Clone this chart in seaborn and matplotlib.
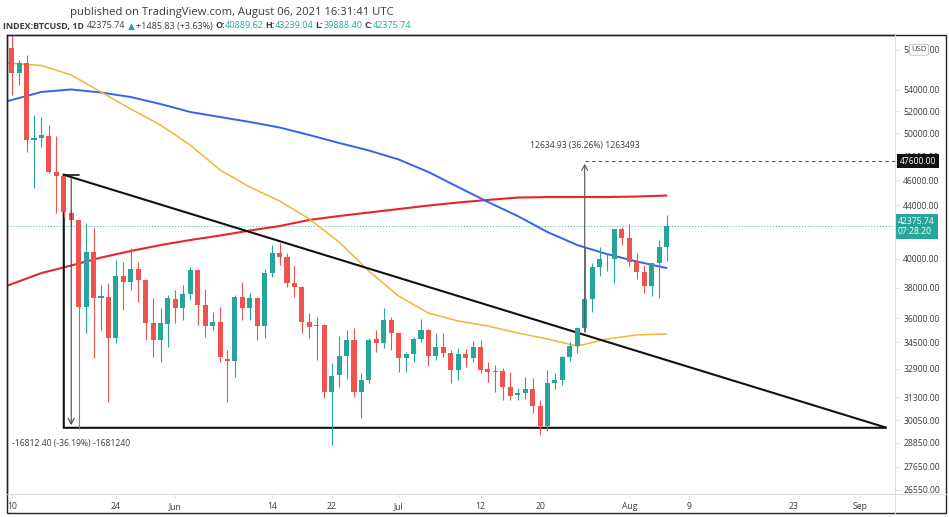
import matplotlib
matplotlib.use('Agg')
import matplotlib.pyplot as plt
import matplotlib.dates as mdates
from matplotlib.patches import Rectangle, Polygon
from matplotlib.lines import Line2D
from matplotlib.ticker import FixedLocator, NullLocator
import seaborn as sns
import pandas as pd

sns.set_style('white')
plt.rcParams['font.family'] = ['Open Sans', 'DejaVu Sans']

W, H = 949, 517

# daily BTCUSD candles, May 10 -> Aug 6 2021
dates = pd.date_range('2021-05-10', '2021-08-06', freq='D')
opens = [58200, 55700, 56620, 49410, 49600, 49800, 46700, 46380, 43420, 42870,
         36750, 40520, 37300, 37400, 34740, 38810, 38380, 39270, 38530, 35670,
         34640, 35630, 37250, 36640, 37570, 39220, 36860, 35510, 35760, 33510,
         33390, 37360, 36680, 37300, 35510, 38990, 40450, 40120, 38350, 38040,
         35780, 35490, 35570, 31600, 32530, 33670, 34640, 31600, 32260, 34680,
         34470, 35890, 35050, 33530, 33790, 34680, 35260, 33650, 34190, 33870,
         32840, 33790, 33530, 34230, 32900, 32750, 32810, 31870, 31400, 31540,
         31760, 30820, 29740, 32100, 32260, 33630, 34270, 35360, 37230, 39450,
         39970, 40020, 42160, 41490, 39800, 39100, 38120, 39690, 40889.62]
highs = [59600, 56950, 57460, 51660, 51500, 50740, 49800, 46600, 43630, 42900,
         42620, 42260, 38190, 38300, 39920, 39800, 40780, 39800, 38600, 37300,
         36660, 37520, 37850, 38190, 39450, 39300, 37900, 36420, 36750, 34030,
         37520, 38420, 37630, 37410, 39270, 41000, 41170, 40400, 39570, 38100,
         36320, 36060, 35650, 33270, 34890, 35260, 35360, 32690, 34740, 35260,
         36640, 36100, 35100, 33930, 34850, 35930, 35300, 35100, 35050, 34030,
         34130, 34070, 34600, 34640, 33330, 33130, 32940, 32700, 31790, 32410,
         32350, 31140, 32840, 32650, 33670, 34540, 35470, 40880, 39690, 40880,
         40400, 42200, 42360, 42560, 40400, 39570, 39730, 41370, 43239.04]
lows = [53520, 54480, 48400, 45370, 48820, 46600, 43400, 43120, 42360, 29600,
        35060, 33550, 35260, 31050, 34450, 36530, 37850, 37080, 34640, 33630,
        33330, 34230, 35670, 35890, 37190, 35570, 34850, 35260, 33330, 31050,
        32460, 35890, 35890, 34640, 34740, 38770, 39570, 38040, 37360, 35100,
        34740, 33430, 31230, 28750, 31880, 32300, 31290, 30140, 32070, 33890,
        34150, 34030, 32750, 32750, 33330, 34540, 33070, 33430, 33630, 32110,
        32260, 32990, 33330, 32640, 32160, 31600, 31140, 31140, 31140, 31180,
        30410, 29260, 29480, 31730, 31980, 33390, 33870, 35150, 36420, 38810,
        39170, 38350, 41000, 39500, 38580, 37630, 37450, 37300, 39888.40]
closes = [55700, 56620, 49410, 49600, 49850, 46700, 46380, 43480, 42870, 36750,
          40520, 37300, 37450, 34740, 38810, 38380, 39270, 38530, 35670, 34640,
          35670, 37300, 36640, 37570, 39220, 36860, 35510, 35760, 33590, 33390,
          37360, 36640, 37300, 35510, 38990, 40450, 40120, 38350, 38040, 35780,
          35460, 35570, 31600, 32510, 33670, 34640, 31600, 32260, 34640, 34470,
          35890, 35050, 33530, 33770, 34680, 35260, 33650, 34190, 33870, 32840,
          33790, 33530, 34230, 32840, 32750, 32810, 31840, 31360, 31540, 31760,
          30820, 29740, 32100, 32260, 33630, 34270, 35360, 37230, 39450, 39970,
          40020, 42160, 41490, 39800, 39100, 38120, 39690, 40840, 42375.74]

# moving averages
ma_dates = ['2021-05-09', '2021-05-10', '2021-05-14', '2021-05-18', '2021-05-22',
            '2021-05-26', '2021-05-30', '2021-06-03', '2021-06-07', '2021-06-11',
            '2021-06-15', '2021-06-19', '2021-06-23', '2021-06-27', '2021-07-01',
            '2021-07-05', '2021-07-09', '2021-07-13', '2021-07-17', '2021-07-21',
            '2021-07-25', '2021-07-29', '2021-08-02', '2021-08-06']
ma50 = [56650, 56620, 56400, 55460, 53810, 52210, 50740, 48970, 46850, 45450,
        44340, 42940, 41220, 39150, 37450, 36340, 35830, 35510, 35070, 34700,
        34270, 34700, 34950, 35010]
ma100 = [52860, 53050, 53810, 54050, 53760, 53330, 52670, 51930, 51470, 51020,
         50520, 49850, 49150, 48500, 47730, 46680, 45450, 44260, 43170, 41960,
         41000, 40350, 39820, 39360]
ma200 = [38060, 38260, 39010, 39540, 40100, 40570, 41000, 41370, 41700, 42070,
         42410, 42870, 43170, 43440, 43710, 43980, 44220, 44420, 44610, 44650,
         44650, 44650, 44690, 44770]

# drawings
tri_top = ('2021-05-17', 46450)
tri_bottom = 29637.6
tri_end = '2021-09-04 14:00'
down_arrow_date = '2021-05-18'
up_arrow_date = '2021-07-26'
up_from, up_to = 34965, 47600
last_price = 42375.74

ytick_vals = [58000, 54000, 52000, 50000, 48000, 46000, 44000, 40000, 38000,
              36000, 34500, 32900, 31300, 30050, 28850, 27650, 26550]
xtick_dates = ['2021-05-10', '2021-05-24', '2021-06-01', '2021-06-14', '2021-06-22',
               '2021-07-01', '2021-07-12', '2021-07-20', '2021-08-01', '2021-08-09',
               '2021-08-23', '2021-09-01']
xtick_labels = ['10', '24', 'Jun', '14', '22', 'Jul', '12', '20', 'Aug', '9', '23', 'Sep']

GREEN = '#26a69a'
RED = '#ef5350'
TXT = '#3b3b3b'
SEP = '#d9dce3'


def d(s):
    return mdates.date2num(pd.Timestamp(s))


fig = plt.figure(figsize=(W / 100, H / 100), dpi=100)
fig.patch.set_facecolor('white')
ax = fig.add_axes([7 / W, 1 - 494 / H, 888 / W, 459 / H])
ax.set_facecolor('white')
ax.set_yscale('log')

x = mdates.date2num(dates)
x0 = x[0]

# moving averages
mx = [d(s) for s in ma_dates]
sns.lineplot(x=mx, y=ma200, ax=ax, color='#e8262a', lw=1.5, zorder=2)
sns.lineplot(x=mx, y=ma100, ax=ax, color='#3563e9', lw=1.4, zorder=2)
sns.lineplot(x=mx, y=ma50, ax=ax, color='#f2b43a', lw=1.1, zorder=2)

# triangle drawing
tx, ty = d(tri_top[0]), tri_top[1]
ax.add_patch(Polygon([(tx, ty), (tx, tri_bottom), (d(tri_end), tri_bottom)], closed=True,
                     fill=False, ec='#111111', lw=1.5, zorder=3, clip_on=False))

# candles
colors = [GREEN if c >= o else RED for o, c in zip(opens, closes)]
ax.vlines(x, lows, highs, colors=colors, lw=0.8, zorder=4)
bottoms = [min(o, c) for o, c in zip(opens, closes)]
heights = [max(abs(c - o), 60) for o, c in zip(opens, closes)]
ax.bar(x, heights, bottom=bottoms, width=0.68, color=colors, lw=0, zorder=5)

# current price dotted line
ax.axhline(last_price, color=GREEN, lw=0.8, ls=(0, (1, 1.6)), alpha=0.75, zorder=1)

# measure: down
dx = d(down_arrow_date)
ax.plot([tx, d('2021-05-19')], [ty, ty], color='#111111', lw=1.2, zorder=6)
ax.annotate('', xy=(dx, tri_bottom), xytext=(dx, ty),
            arrowprops=dict(arrowstyle='->,head_length=0.4,head_width=0.22', color='#444444', lw=0.8),
            zorder=6)
ax.annotate('-16812.40 (-36.19%) -1681240', xy=(dx, tri_bottom), xytext=(0, -11),
            textcoords='offset points', ha='center', va='center', fontsize=6.2, color=TXT)

# measure: up
ux = d(up_arrow_date)
ax.annotate('', xy=(ux, up_to), xytext=(ux, up_from),
            arrowprops=dict(arrowstyle='->,head_length=0.4,head_width=0.22', color='#555555', lw=0.8),
            zorder=6)
ax.plot([ux, x0 + 200], [up_to, up_to], color='#555555', lw=0.8, ls=(0, (3, 3)), zorder=6)
ax.annotate('12634.93 (36.26%) 1263493', xy=(ux, up_to), xytext=(0, 11),
            textcoords='offset points', ha='center', va='center', fontsize=6.2, color=TXT)

ax.set_xlim(x0 - 0.63, x0 + 118.7)
ax.set_ylim(26350, 59540)

# axes styling
for s in ['left', 'top']:
    ax.spines[s].set_color('#222222')
    ax.spines[s].set_linewidth(1.0)
for s in ['right', 'bottom']:
    ax.spines[s].set_visible(False)

ax.yaxis.tick_right()
ax.yaxis.set_major_locator(FixedLocator(ytick_vals))
ax.yaxis.set_minor_locator(NullLocator())
ax.set_yticklabels([f'{v:.2f}' for v in ytick_vals])
ax.tick_params(axis='y', which='major', right=True, length=3, width=0.6, color=SEP,
               pad=3, labelsize=6.2, labelcolor=TXT)
ax.set_xticks([d(s) for s in xtick_dates])
ax.set_xticklabels(xtick_labels)
ax.tick_params(axis='x', bottom=True, length=3, width=0.6, color=SEP, pad=3,
               labelsize=6.2, labelcolor=TXT)
ax.set_xlabel('')
ax.set_ylabel('')
ax.grid(False)

ytr = ax.get_yaxis_transform()
# price boxes
ax.text(1.0056, up_to, '47600.00', transform=ytr, ha='left', va='center', fontsize=6.2,
        color='white', bbox=dict(boxstyle='square,pad=0.3', fc='#111111', ec='none'), zorder=10)
ax.text(1.0035, last_price, '42375.74\n07:28:20', transform=ytr, ha='left', va='center',
        fontsize=6.2, color='white', linespacing=1.25,
        bbox=dict(boxstyle='square,pad=0.35', fc=GREEN, ec='none'), zorder=10)
ax.text(1.0185, 58000, 'USD', transform=ytr, ha='left', va='center', fontsize=5.5,
        color=TXT, bbox=dict(boxstyle='round,pad=0.25', fc='white', ec='#b8bcc6', lw=0.6),
        zorder=10)


# frame and separators in pixel coords
def fx(px):
    return px / W


def fy(py):
    return 1 - py / H


fig.add_artist(Line2D([fx(895), fx(895)], [fy(35), fy(513)], color=SEP, lw=0.8))
fig.add_artist(Line2D([fx(7), fx(946)], [fy(494), fy(494)], color=SEP, lw=0.8))
fig.add_artist(Rectangle((fx(7), fy(513)), fx(946) - fx(7), fy(35) - fy(513),
                         transform=fig.transFigure, fill=False, ec='#222222', lw=1.0))

# header
fig.text(fx(70), fy(13), 'published on TradingView.com, August 06, 2021 16:31:41 UTC',
         fontsize=8.1, color=TXT, va='center', ha='left')

fig.canvas.draw()
rend = fig.canvas.get_renderer()
pieces = [('INDEX:BTCUSD, 1D', TXT, 'bold', 3), ('42375.74', TXT, 'normal', 2),
          ('\u25b2', GREEN, 'normal', 2), ('+1485.83 (+3.63%)', TXT, 'normal', 2),
          ('O:', TXT, 'bold', 0), ('40889.62', GREEN, 'normal', 2),
          ('H:', TXT, 'bold', 0), ('43239.04', GREEN, 'normal', 2),
          ('L:', TXT, 'bold', 0), ('39888.40', GREEN, 'normal', 2),
          ('C:', TXT, 'bold', 0), ('42375.74', GREEN, 'normal', 0)]
cx = 3
for s, col, wt, gap in pieces:
    t = fig.text(fx(cx), fy(26), s, fontsize=6.5, color=col, fontweight=wt,
                 va='center', ha='left')
    bb = t.get_window_extent(renderer=rend)
    cx += bb.width + gap

fig.savefig('out.png', dpi=100, facecolor='white')
